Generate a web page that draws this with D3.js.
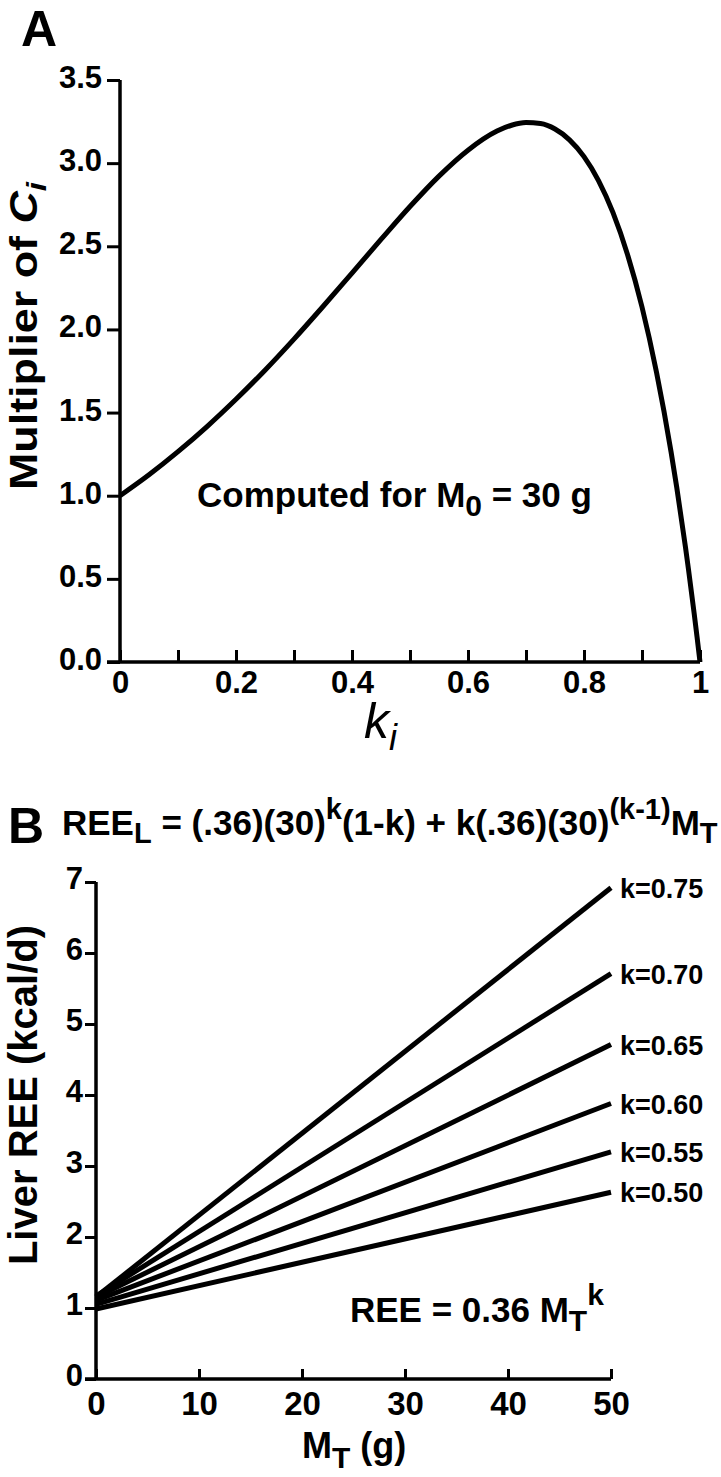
<!DOCTYPE html>
<html>
<head>
<meta charset="utf-8">
<script src="https://cdn.jsdelivr.net/npm/d3@7"></script>
<style>
  html, body { margin: 0; padding: 0; background: #fff; }
  svg { display: block; }
  text { font-family: "Liberation Sans", Arial, Helvetica, sans-serif; font-weight: bold; fill: #000; }
  text.light { font-weight: normal; font-style: italic; }
</style>
</head>
<body>
<script>
// ---------- Panel A data ----------
const kA = [0, 0.05, 0.1, 0.15, 0.2, 0.25, 0.3, 0.35, 0.4, 0.45, 0.5, 0.55, 0.6, 0.65, 0.675, 0.7, 0.725, 0.75, 0.775, 0.8, 0.825, 0.85, 0.875, 0.9, 0.925, 0.95, 0.96, 0.975, 0.98, 0.99, 0.995, 1];
const multiplierA = [1.00, 1.126, 1.265, 1.416, 1.580, 1.755, 1.942, 2.138, 2.339, 2.541, 2.739, 2.922, 3.078, 3.193, 3.228, 3.244, 3.238, 3.205, 3.140, 3.039, 2.895, 2.702, 2.451, 2.135, 1.743, 1.266, 1.048, 0.689, 0.561, 0.290, 0.148, 0];
const yTicksA = [0, 0.5, 1.0, 1.5, 2.0, 2.5, 3.0, 3.5];
const yTickLabelsA = ["0.0", "0.5", "1.0", "1.5", "2.0", "2.5", "3.0", "3.5"];
const xTicksA = [0, 0.1, 0.2, 0.3, 0.4, 0.5, 0.6, 0.7, 0.8, 0.9, 1.0];
const xTickLabelsA = ["0", "", "0.2", "", "0.4", "", "0.6", "", "0.8", "", "1"];

// ---------- Panel B data ----------
const kLabelsB = ["k=0.75", "k=0.70", "k=0.65", "k=0.60", "k=0.55", "k=0.50"];
const mtRangeB = [0, 50];
const reeAtMt0 = [1.154, 1.168, 1.150, 1.108, 1.052, 0.986];
const reeAtMt50 = [6.92, 5.71, 4.71, 3.88, 3.20, 2.63];
const yTicksB = [0, 1, 2, 3, 4, 5, 6, 7];
const xTicksB = [0, 10, 20, 30, 40, 50];

const W = 721, H = 1477;
const svg = d3.select("body").append("svg").attr("width", W).attr("height", H);
svg.append("rect").attr("width", W).attr("height", H).attr("fill", "#fff");

// ================= PANEL A =================
const xA = d3.scaleLinear().domain([0, 1]).range([120, 700]);
const yA = d3.scaleLinear().domain([0, 3.5]).range([662, 80]);

const gAy = svg.append("g").attr("transform", `translate(${xA(0)},0)`)
  .call(d3.axisLeft(yA).tickValues(yTicksA).tickFormat((d, i) => yTickLabelsA[i]).tickSize(13).tickSizeOuter(0).tickPadding(5));
const gAx = svg.append("g").attr("transform", `translate(0,${yA(0)})`)
  .call(d3.axisBottom(xA).tickValues(xTicksA).tickFormat((d, i) => xTickLabelsA[i]).tickSize(-12).tickSizeOuter(0).tickPadding(9));
[gAy, gAx].forEach(g => {
  g.select(".domain").remove();
  g.selectAll(".tick line").attr("stroke", "#000").attr("stroke-width", 3);
  g.selectAll(".tick text").attr("font-size", 31).attr("font-family", null).attr("fill", "#000");
});
gAy.selectAll(".tick text").attr("dy", "0.24em");
gAx.selectAll(".tick text").attr("dy", "0.72em");
svg.append("line").attr("x1", xA(0)).attr("x2", xA(0)).attr("y1", yA(3.5)).attr("y2", yA(0))
  .attr("stroke", "#000").attr("stroke-width", 3.5);
svg.append("line").attr("x1", xA(0) - 13).attr("x2", xA(1)).attr("y1", yA(0)).attr("y2", yA(0))
  .attr("stroke", "#000").attr("stroke-width", 3.5);

const lineA = d3.line().x((d, i) => xA(kA[i])).y(d => yA(d)).curve(d3.curveMonotoneX);
svg.append("path").datum(multiplierA).attr("d", lineA)
  .attr("fill", "none").attr("stroke", "#000").attr("stroke-width", 5).attr("stroke-linejoin", "round");

svg.append("text").attr("x", 21).attr("y", 46).attr("font-size", 50).text("A");

const tA = svg.append("text").attr("x", 197).attr("y", 507).attr("font-size", 35);
tA.append("tspan").text("Computed for M");
tA.append("tspan").attr("font-size", 30).attr("dy", 9).text("0");
tA.append("tspan").attr("dy", -9).text(" = 30 g");

const kx = svg.append("text").attr("class", "light").attr("x", 364).attr("y", 738).attr("font-size", 50);
kx.append("tspan").text("k");
kx.append("tspan").attr("font-size", 36).attr("dy", 12).text("i");

const yl = svg.append("text").attr("transform", "translate(37,336) rotate(-90) scale(1.18,1)")
  .attr("text-anchor", "middle").attr("font-size", 38);
yl.append("tspan").text("Multiplier of ");
yl.append("tspan").attr("font-style", "italic").text("C");
yl.append("tspan").attr("font-style", "italic").attr("font-size", 28).attr("dy", 9).text("i");

// ================= PANEL B =================
const xB = d3.scaleLinear().domain(mtRangeB).range([96, 611]);
const yB = d3.scaleLinear().domain([0, 7]).range([1379, 882]);

const gBy = svg.append("g").attr("transform", `translate(${xB(0)},0)`)
  .call(d3.axisLeft(yB).tickValues(yTicksB).tickFormat(d3.format("d")).tickSize(11).tickSizeOuter(0).tickPadding(2));
const gBx = svg.append("g").attr("transform", `translate(0,${yB(0)})`)
  .call(d3.axisBottom(xB).tickValues(xTicksB).tickFormat(d3.format("d")).tickSize(-10).tickSizeOuter(0).tickPadding(12));
[gBy, gBx].forEach(g => {
  g.select(".domain").remove();
  g.selectAll(".tick line").attr("stroke", "#000").attr("stroke-width", 3);
  g.selectAll(".tick text").attr("font-family", null).attr("fill", "#000");
});
gBy.selectAll(".tick text").attr("font-size", 31).attr("dy", "0.2em");
gBx.selectAll(".tick text").attr("font-size", 33).attr("dy", "0.72em");
svg.append("line").attr("x1", xB(0)).attr("x2", xB(0)).attr("y1", yB(7)).attr("y2", yB(0))
  .attr("stroke", "#000").attr("stroke-width", 3.5);
svg.append("line").attr("x1", xB(0) - 11).attr("x2", xB(50)).attr("y1", yB(0)).attr("y2", yB(0))
  .attr("stroke", "#000").attr("stroke-width", 3.5);

const linesB = kLabelsB.map((lab, i) => ({ lab, pts: [[mtRangeB[0], reeAtMt0[i]], [mtRangeB[1], reeAtMt50[i]]] }));
const lineB = d3.line().x(d => xB(d[0])).y(d => yB(d[1]));
svg.append("g").selectAll("path").data(linesB).join("path")
  .attr("d", d => lineB(d.pts)).attr("fill", "none").attr("stroke", "#000").attr("stroke-width", 5)
  .attr("stroke-linecap", "butt");
svg.append("g").selectAll("text").data(linesB).join("text")
  .attr("x", xB(50) + 9).attr("y", d => yB(d.pts[1][1]) + 10)
  .attr("font-size", 27).text(d => d.lab);

svg.append("text").attr("x", 8).attr("y", 843).attr("font-size", 50).text("B");

const f = svg.append("text").attr("x", 62).attr("y", 835).attr("font-size", 35);
f.append("tspan").text("REE");
f.append("tspan").attr("font-size", 29).attr("dy", 8).text("L");
f.append("tspan").attr("dy", -8).text(" = (.36)(30)");
f.append("tspan").attr("font-size", 29).attr("dy", -16).text("k");
f.append("tspan").attr("dy", 16).text("(1-k) + k(.36)(30)");
f.append("tspan").attr("font-size", 29).attr("dy", -16).text("(k-1)");
f.append("tspan").attr("dy", 16).text("M");
f.append("tspan").attr("font-size", 29).attr("dy", 8).text("T");

const r = svg.append("text").attr("x", 350).attr("y", 1322).attr("font-size", 35);
r.append("tspan").text("REE = 0.36 M");
r.append("tspan").attr("font-size", 30).attr("dy", 9).text("T");
r.append("tspan").attr("font-size", 30).attr("dy", -26).text("k");

const mx = svg.append("text").attr("x", 302).attr("y", 1458).attr("font-size", 36);
mx.append("tspan").text("M");
mx.append("tspan").attr("font-size", 30).attr("dy", 10).text("T");
mx.append("tspan").attr("dy", -10).text(" (g)");

svg.append("text").attr("transform", "translate(37,1095) rotate(-90)")
  .attr("text-anchor", "middle").attr("font-size", 40).text("Liver REE (kcal/d)");
</script>
</body>
</html>
